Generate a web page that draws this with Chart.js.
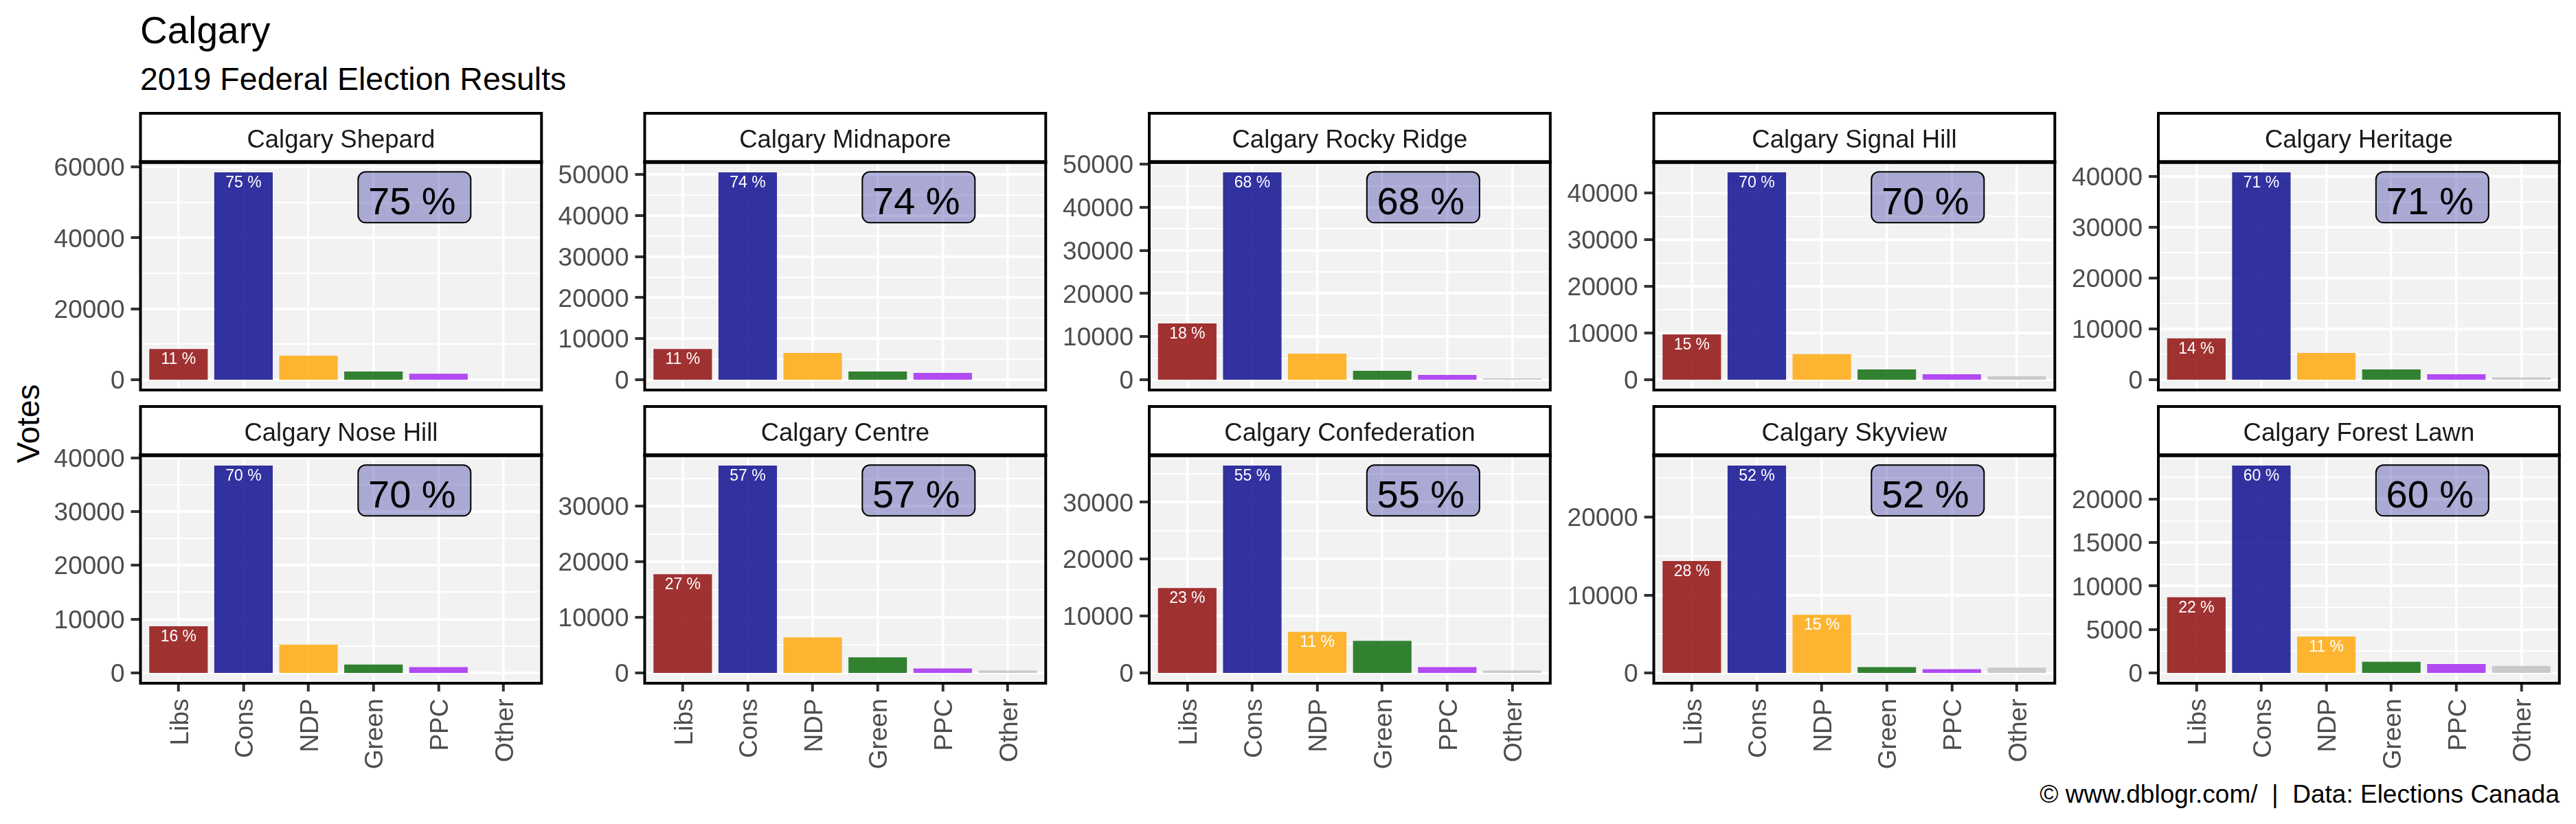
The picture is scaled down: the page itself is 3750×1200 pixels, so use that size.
<!DOCTYPE html>
<html>
<head>
<meta charset="utf-8">
<title>Calgary</title>
<script src="https://cdn.jsdelivr.net/npm/chart.js@4"></script>
<style>
  html,body{margin:0;padding:0;background:#fff;width:3750px;height:1200px;overflow:hidden;font-family:"Liberation Sans",Arial,sans-serif;}
  #page{position:relative;width:3750px;height:1200px;overflow:hidden;}
  canvas{position:absolute;display:block;}
  .t{position:absolute;white-space:pre;color:#000;}
</style>
</head>
<body>
<div id="page">
  <div class="t" style="left:204px;top:17px;font-size:55px;line-height:55px;">Calgary</div>
  <div class="t" style="left:204px;top:92px;font-size:46.5px;line-height:46.5px;">2019 Federal Election Results</div>
  <div class="t" style="left:41px;top:617px;font-size:46px;line-height:46px;transform:translate(-50%,-50%) rotate(-90deg);">Votes</div>
  <div class="t" style="right:24px;top:1138px;font-size:37px;line-height:37px;">© www.dblogr.com/  |  Data: Elections Canada</div>
</div>
<script>
const categories = ["Libs","Cons","NDP","Green","PPC","Other"];
const ridings = ["Calgary Shepard","Calgary Midnapore","Calgary Rocky Ridge","Calgary Signal Hill","Calgary Heritage",
                 "Calgary Nose Hill","Calgary Centre","Calgary Confederation","Calgary Skyview","Calgary Forest Lawn"];

const votesShepard    = [8660,58460,6740,2300,1690,0];
const votesMidnapore  = [7490,50510,6530,1985,1665,0];
const votesRockyRidge = [13050,48110,6040,2070,1100,300];
const votesSignalHill = [9680,44390,5460,2190,1180,730];
const votesHeritage   = [8115,40775,5270,2015,1085,410];
const votesNoseHill   = [8680,38540,5250,1560,1060,0];
const votesCentre     = [17745,37290,6390,2790,805,425];
const votesConfed     = [14930,36425,7210,5640,1017,416];
const votesSkyview    = [14360,26620,7466,743,473,676];
const votesForestLawn = [8720,23875,4190,1280,1030,810];
const allVotes = [votesShepard,votesMidnapore,votesRockyRidge,votesSignalHill,votesHeritage,
                  votesNoseHill,votesCentre,votesConfed,votesSkyview,votesForestLawn];

const pctShepard    = [11,75,null,null,null,null];
const pctMidnapore  = [11,74,null,null,null,null];
const pctRockyRidge = [18,68,null,null,null,null];
const pctSignalHill = [15,70,null,null,null,null];
const pctHeritage   = [14,71,null,null,null,null];
const pctNoseHill   = [16,70,null,null,null,null];
const pctCentre     = [27,57,null,null,null,null];
const pctConfed     = [23,55,11,null,null,null];
const pctSkyview    = [28,52,15,null,null,null];
const pctForestLawn = [22,60,11,null,null,null];
const allPct = [pctShepard,pctMidnapore,pctRockyRidge,pctSignalHill,pctHeritage,
                pctNoseHill,pctCentre,pctConfed,pctSkyview,pctForestLawn];

const ticksShepard    = [0,20000,40000,60000];
const ticksMidnapore  = [0,10000,20000,30000,40000,50000];
const ticksRockyRidge = [0,10000,20000,30000,40000,50000];
const ticksSignalHill = [0,10000,20000,30000,40000];
const ticksHeritage   = [0,10000,20000,30000,40000];
const ticksNoseHill   = [0,10000,20000,30000,40000];
const ticksCentre     = [0,10000,20000,30000];
const ticksConfed     = [0,10000,20000,30000];
const ticksSkyview    = [0,10000,20000];
const ticksForestLawn = [0,5000,10000,15000,20000];
const allTicks = [ticksShepard,ticksMidnapore,ticksRockyRidge,ticksSignalHill,ticksHeritage,
                  ticksNoseHill,ticksCentre,ticksConfed,ticksSkyview,ticksForestLawn];

const barColors = ["rgba(139,0,0,0.8)","rgba(0,0,139,0.8)","rgba(255,165,0,0.8)",
                   "rgba(0,100,0,0.8)","rgba(160,32,240,0.8)","rgba(190,190,190,0.8)"];

const FONT = '"Liberation Sans", Arial, sans-serif';
const panelLefts = [204.5,938.5,1673,2407.5,3142];
const panelW = 583.8;
const rowTops = [236,663];
const panelH = 332;
const PAD_TOP = 80, Y_W = 200, RIGHT = 40;
const page = document.getElementById('page');

const panelPlugin = {
  id:'panel',
  beforeDraw(chart){
    const {ctx,chartArea:a} = chart;
    ctx.save();
    ctx.fillStyle='#F2F2F2';
    ctx.fillRect(a.left,a.top,a.right-a.left,a.bottom-a.top);
    ctx.restore();
  },
  afterDatasetsDraw(chart,args,opts){
    const {ctx,chartArea:a,scales:{x,y}} = chart;
    const big = Math.max(...opts.votes);
    ctx.save();
    ctx.textAlign='center'; ctx.textBaseline='alphabetic';
    ctx.fillStyle='#fff'; ctx.font='23px '+FONT;
    opts.pct.forEach((p,i)=>{
      if(p===null) return;
      ctx.fillText(p+' %', x.getPixelForValue(i+1), y.getPixelForValue(opts.votes[i])+22);
    });
    const cx = x.getPixelForValue(4.63), cy = y.getPixelForValue(big*0.88);
    ctx.beginPath();
    ctx.roundRect(cx-82,cy-37,164,74,11);
    ctx.fillStyle='rgba(0,0,139,0.3)'; ctx.fill();
    ctx.lineWidth=2; ctx.strokeStyle='#000'; ctx.stroke();
    ctx.fillStyle='#000'; ctx.font='56px '+FONT;
    ctx.fillText(Math.max(...opts.pct)+' %', cx-3.5, cy+25);
    ctx.lineWidth=4; ctx.strokeStyle='#000';
    ctx.strokeRect(a.left,a.top,a.right-a.left,a.bottom-a.top);
    const st=a.top-71;
    ctx.fillStyle='#fff'; ctx.fillRect(a.left,st,a.right-a.left,71);
    ctx.strokeRect(a.left,st,a.right-a.left,71);
    ctx.lineWidth=5.5;
    ctx.beginPath(); ctx.moveTo(a.left-2,a.top); ctx.lineTo(a.right+2,a.top); ctx.stroke();
    ctx.fillStyle='#1a1a1a'; ctx.font='36.5px '+FONT;
    ctx.fillText(opts.title,(a.left+a.right)/2,a.top-21);
    ctx.restore();
  }
};

ridings.forEach((name,k)=>{
  const col=k%5, row=Math.floor(k/5), bottomRow=row===1;
  const L=panelLefts[col], T=rowTops[row];
  const votes=allVotes[k], pct=allPct[k], majors=allTicks[k];
  const top=Math.max(...votes);
  const step=majors[1]-majors[0];
  const yMin=-0.05*top, yMax=1.05*top;
  const allT=[];
  majors.forEach(v=>{allT.push(v); if(v+step/2<=top) allT.push(v+step/2);});
  const xAxisH = bottomRow?130:40;
  const fl=Math.floor(L);
  const frac=L-fl;
  const cw=Y_W+Math.ceil(panelW)+RIGHT;
  const ch=PAD_TOP+Math.ceil(panelH)+xAxisH;
  const c=document.createElement('canvas');
  c.width=cw; c.height=ch;
  c.style.left=(fl-Y_W)+'px'; c.style.top=(T-PAD_TOP)+'px';
  c.style.width=cw+'px'; c.style.height=ch+'px';
  page.appendChild(c);
  new Chart(c,{
    type:'bar',
    data:{datasets:[{
      data:votes.map((v,i)=>({x:i+1,y:v})),
      backgroundColor:barColors,borderWidth:0,base:-0.01,
      barPercentage:0.9,categoryPercentage:1
    }]},
    plugins:[panelPlugin],
    options:{
      responsive:false,animation:false,devicePixelRatio:1,
      layout:{padding:{left:frac,top:PAD_TOP,right:cw-(Y_W+frac+panelW),bottom:ch-(PAD_TOP+panelH)-xAxisH}},
      plugins:{legend:{display:false},tooltip:{enabled:false},title:{display:false},
        panel:{votes,pct,title:name}},
      scales:{
        x:{type:'linear',min:0.415,max:6.585,offset:false,
          afterBuildTicks(s){s.ticks=categories.map((_,i)=>({value:i+1}));},
          afterFit(s){s.height=xAxisH;},
          border:{display:false},
          grid:{offset:false,color:'#fff',lineWidth:3.5,drawTicks:bottomRow,tickLength:12,tickColor:'#333',tickWidth:4},
          ticks:{display:bottomRow,autoSkip:false,minRotation:90,maxRotation:90,padding:10.5,labelOffset:3.5,color:'#4D4D4D',
            font:{family:'Liberation Sans',size:37},
            callback:v=>categories[v-1]}
        },
        y:{type:'linear',min:yMin,max:yMax,
          afterBuildTicks(s){s.ticks=allT.map(v=>({value:v}));},
          afterFit(s){s.width=Y_W;},
          border:{display:false},
          grid:{color:'#fff',
            lineWidth:c=>majors.includes(c.tick.value)?4:2,
            tickLength:14,
            tickWidth:4,
            tickColor:c=>majors.includes(c.tick.value)?'#333':'rgba(0,0,0,0)'},
          ticks:{autoSkip:false,padding:9,labelOffset:3,color:'#4D4D4D',
            font:{family:'Liberation Sans',size:37},
            callback:v=>majors.includes(v)?String(v):''}
        }
      }
    }
  });
});
</script>
</body>
</html>
